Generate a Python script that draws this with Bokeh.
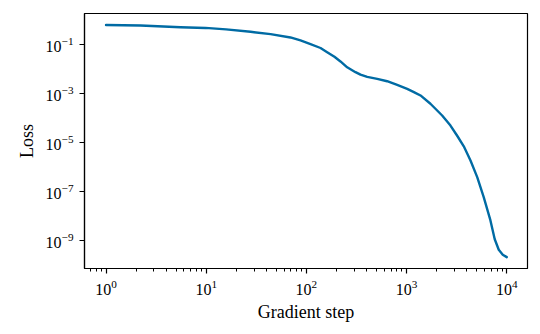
from bokeh.plotting import figure
from bokeh.models import FixedTicker, Range1d
from bokeh.embed import file_html
from bokeh.resources import INLINE

# Data (gradient step, loss)
steps = [1, 2.21, 5.53, 9.84, 15.8, 27.7, 43.9, 69.3, 87.3, 109.9,
         138.4, 161.1, 190.5, 218.8, 255.3, 309, 346.7, 404.6, 509.3, 639.7,
         805.4, 1014, 1183, 1377, 1730, 2265, 2742, 3199, 3724, 4345,
         5070, 5888, 6871, 7586, 8318, 9120, 10000]
loss = [0.646, 0.617, 0.525, 0.490, 0.427, 0.340, 0.272, 0.200, 0.151, 0.107,
        0.0741, 0.0501, 0.0324, 0.0209, 0.0120, 0.00759, 0.00603, 0.00490, 0.00407, 0.00324,
        0.00229, 0.00158, 0.00117, 0.000851, 0.000389, 0.000129, 5.01e-05, 1.91e-05, 7.08e-06, 1.86e-06,
        3.89e-07, 5.89e-08, 6.61e-09, 1.12e-09, 4.17e-10, 2.63e-10, 2.09e-10]

x_ticks = [1, 10, 100, 1000, 10000]
x_minor = [m * 10 ** e for e in range(-1, 5) for m in range(2, 10)]
y_ticks = [1e-9, 1e-7, 1e-5, 1e-3, 1e-1]

FONT = "Liberation Serif"

p = figure(width=540, height=334, x_axis_type="log", y_axis_type="log",
           output_backend="svg", toolbar_location=None,
           x_range=Range1d(10 ** -0.215, 10 ** 4.207),
           y_range=Range1d(10 ** -10.145, 10 ** 0.28),
           min_border_left=84, min_border_right=13, min_border_top=13, min_border_bottom=66)

p.line(steps, loss, line_color="#006BA4", line_width=2.4,
       line_join="round", line_cap="round")

p.xgrid.visible = False
p.ygrid.visible = False
p.outline_line_color = "black"
p.outline_line_width = 1.2
p.outline_line_alpha = 1

p.xaxis.ticker = FixedTicker(ticks=x_ticks, minor_ticks=x_minor)
p.yaxis.ticker = FixedTicker(ticks=y_ticks, minor_ticks=[])

for ax in (p.xaxis, p.yaxis):
    ax.axis_line_color = "black"
    ax.axis_line_width = 1.2
    ax.major_tick_line_color = "black"
    ax.major_tick_line_width = 1.2
    ax.minor_tick_line_color = "black"
    ax.major_tick_in = 0
    ax.major_tick_out = 5
    ax.minor_tick_in = 0
    ax.minor_tick_out = 3
    ax.major_label_text_font = FONT
    ax.major_label_text_font_size = "16px"
    ax.major_label_text_color = "black"
    ax.axis_label_text_font = FONT
    ax.axis_label_text_font_size = "18px"
    ax.axis_label_text_font_style = "normal"
    ax.axis_label_text_color = "black"

p.xaxis.axis_label = "Gradient step"
p.yaxis.axis_label = "Loss"
p.xaxis.major_label_standoff = 6
p.yaxis.major_label_standoff = 6
p.xaxis.axis_label_standoff = 4
p.yaxis.axis_label_standoff = 6

open("out.html", "w").write(file_html(p, INLINE))
